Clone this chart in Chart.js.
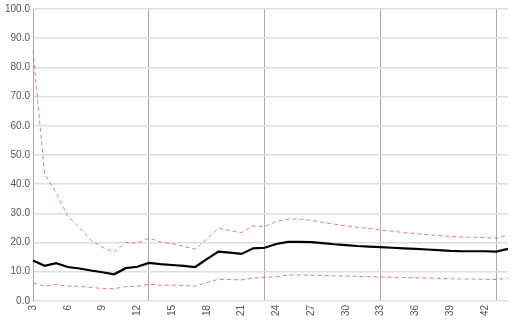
<!DOCTYPE html>
<html>
<head>
<meta charset="utf-8">
<script src="https://cdn.jsdelivr.net/npm/chart.js@4/dist/chart.umd.min.js"></script>
<style>
  html, body { margin: 0; padding: 0; background: #fff; }
  #wrap { width: 524px; height: 327px; }
</style>
</head>
<body>
<div id="wrap"><canvas id="c"></canvas></div>
<script>
// x positions (weeks)
const weeks = [3,4,5,6,7,8,9,10,11,12,13,14,15,16,17,18,19,20,21,22,23,24,25,26,27,28,29,30,31,32,33,34,35,36,37,38,39,40,41,42,43,44];
const middle = [13.8,12.0,12.9,11.6,11.1,10.4,9.8,9.1,11.2,11.7,13.0,12.6,12.3,12.0,11.6,14.3,16.9,16.5,16.1,18.0,18.2,19.5,20.2,20.2,20.1,19.8,19.4,19.1,18.8,18.6,18.4,18.2,18.0,17.8,17.6,17.4,17.1,17.0,17.0,17.0,16.9,17.8];
const upper = [85.6,43.5,37.0,29.0,25.1,20.8,18.3,16.8,20.0,19.8,21.5,20.2,19.6,18.7,17.7,21.1,25.0,24.0,23.4,25.7,25.5,27.2,28.0,28.0,27.6,26.9,26.3,25.7,25.2,24.9,24.2,23.9,23.4,23.1,22.7,22.4,22.1,21.9,21.8,21.7,21.5,22.6];
const lower = [6.1,5.1,5.6,5.1,5.0,4.6,4.2,4.2,4.9,5.0,5.7,5.4,5.4,5.3,5.0,6.3,7.4,7.3,7.2,7.8,8.0,8.3,8.8,8.9,8.8,8.7,8.6,8.5,8.4,8.3,8.2,8.1,8.0,7.9,7.8,7.7,7.6,7.5,7.5,7.4,7.3,7.8];
const yTicks = [0,10,20,30,40,50,60,70,80,90,100];

const red = 'rgba(222,110,110,0.9)';
const font = { family: 'Liberation Sans', size: 10 };

new Chart(document.getElementById('c'), {
  type: 'line',
  data: {
    labels: weeks,
    datasets: [
      { data: upper, borderColor: red, borderWidth: 1, borderDash: [4, 3], pointRadius: 0, tension: 0 },
      { data: middle, borderColor: '#000', borderWidth: 2.2, pointRadius: 0, tension: 0 },
      { data: lower, borderColor: red, borderWidth: 1, borderDash: [4, 3], pointRadius: 0, tension: 0 }
    ]
  },
  options: {
    responsive: true,
    maintainAspectRatio: false,
    animation: false,
    layout: { padding: { top: 0, right: 8, left: 2, bottom: 7 } },
    plugins: { legend: { display: false }, tooltip: { enabled: false } },
    scales: {
      x: {
        offset: false,
        border: { display: false },
        grid: {
          drawTicks: false,
          lineWidth: 1,
          color: ctx => ((weeks[ctx.index] - 3) % 10 === 0 ? '#aaaaaa' : 'rgba(0,0,0,0)')
        },
        ticks: {
          autoSkip: false,
          minRotation: 90,
          maxRotation: 90,
          padding: 4,
          color: '#555',
          font: font,
          callback: (v, i) => (weeks[i] % 3 === 0 ? String(weeks[i]) : '')
        }
      },
      y: {
        min: 0,
        max: 100,
        afterBuildTicks: s => { s.ticks = yTicks.map(v => ({ value: v })); },
        border: { display: true, color: '#aaaaaa' },
        grid: { drawTicks: false, color: '#dedede', lineWidth: 1.6 },
        ticks: {
          padding: 3,
          color: '#555',
          font: font,
          callback: v => Number(v).toFixed(1)
        }
      }
    }
  }
});
</script>
</body>
</html>
